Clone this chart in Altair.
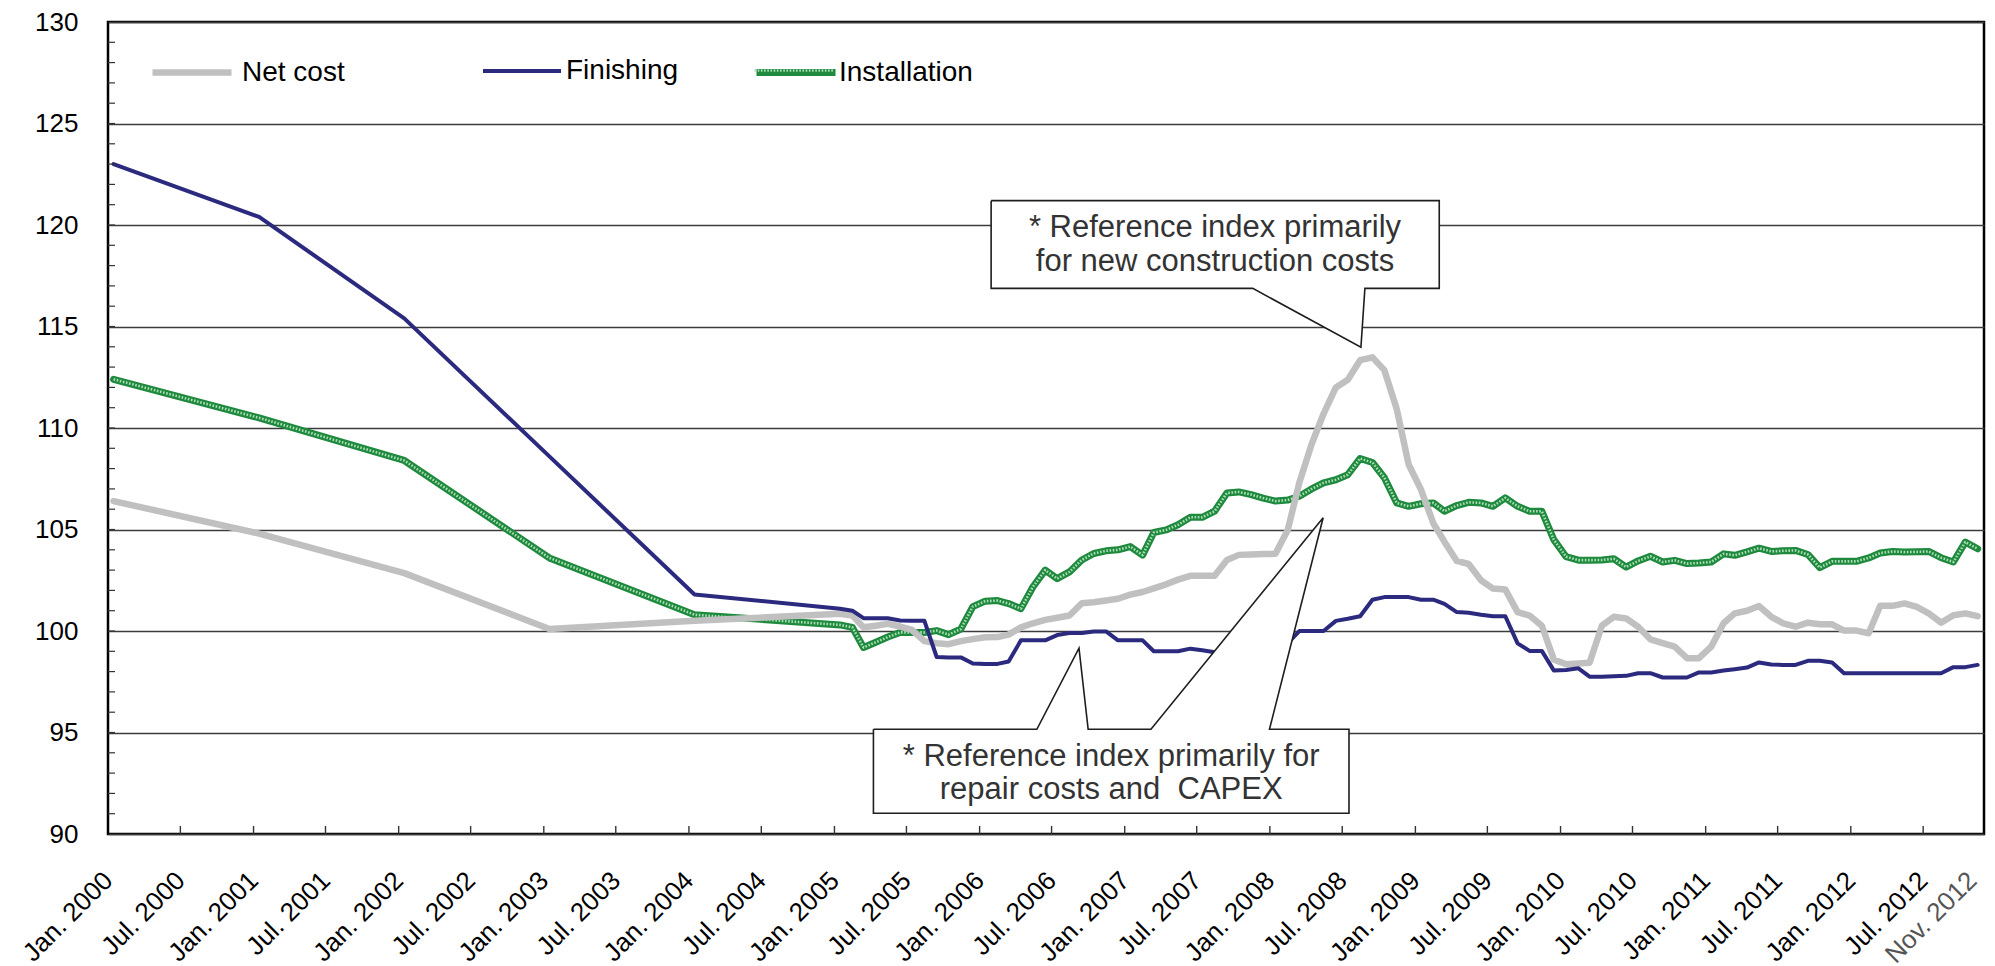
import altair as alt
import pandas as pd

# ---------------------------------------------------------------------------
# Observation dates: yearly values up to 2004, monthly values from 2005 on
# ---------------------------------------------------------------------------
YEARLY_DATES = ["2000-01-15", "2001-01-15", "2002-01-15", "2003-01-15", "2004-01-15"]


def monthly_dates(year, month, count):
    out = []
    for _ in range(count):
        out.append(f"{year:04d}-{month:02d}-15")
        month += 1
        if month > 12:
            month, year = 1, year + 1
    return out


DATES = YEARLY_DATES + monthly_dates(2005, 1, 95)

# ---------------------------------------------------------------------------
# Index values
# ---------------------------------------------------------------------------
NET_COST = [106.4, 104.8, 102.85, 100.1, 100.5] + [
    100.85, 100.76, 100.18, 100.26, 100.35, 100.22, 100.05, 99.5, 99.4, 99.35,
    99.5, 99.6, 99.69, 99.7, 99.82, 100.18, 100.38, 100.55, 100.65, 100.76,
    101.37, 101.42, 101.5, 101.59, 101.79, 101.92, 102.1, 102.3, 102.53, 102.72,
    102.72, 102.72, 103.5, 103.75, 103.77, 103.79, 103.8, 104.98, 107.3, 109.2,
    110.7, 112.0, 112.38, 113.34, 113.48, 112.85, 110.94, 108.2, 106.97, 105.31,
    104.4, 103.45, 103.3, 102.5, 102.09, 102.05, 100.93, 100.76, 100.26, 98.6,
    98.36, 98.4, 98.44, 100.26, 100.7, 100.62, 100.21, 99.59, 99.4, 99.23,
    98.66, 98.66, 99.23, 100.38, 100.87, 101.0, 101.23, 100.7, 100.38, 100.21,
    100.41, 100.33, 100.33, 100.02, 100.02, 99.89, 101.24, 101.24, 101.36, 101.19,
    100.87, 100.41, 100.78, 100.87, 100.73,
]

FINISHING = [123.0, 120.4, 115.4, 108.6, 101.8] + [
    101.1, 101.0, 100.63, 100.63, 100.63, 100.52, 100.51, 100.51, 98.72, 98.7,
    98.7, 98.4, 98.38, 98.38, 98.5, 99.54, 99.54, 99.54, 99.8, 99.9,
    99.9, 99.98, 99.98, 99.54, 99.54, 99.54, 99.0, 99.0, 99.0, 99.13,
    99.05, 98.95, 98.9, 98.9, 98.9, 98.95, 99.1, 99.4, 100.0, 100.0,
    100.0, 100.5, 100.6, 100.73, 101.54, 101.67, 101.67, 101.67, 101.54, 101.54,
    101.34, 100.93, 100.9, 100.8, 100.73, 100.73, 99.39, 99.02, 99.02, 98.06,
    98.08, 98.16, 97.75, 97.75, 97.77, 97.79, 97.92, 97.92, 97.71, 97.71,
    97.71, 97.96, 97.96, 98.05, 98.12, 98.2, 98.45, 98.35, 98.33, 98.33,
    98.53, 98.53, 98.45, 97.92, 97.92, 97.92, 97.92, 97.92, 97.92, 97.92,
    97.92, 97.92, 98.22, 98.22, 98.33,
]

INSTALLATION = [112.4, 110.5, 108.4, 103.6, 100.8] + [
    100.3, 100.18, 99.19, 99.45, 99.7, 99.93, 99.93, 99.93, 100.02, 99.82,
    100.1, 101.2, 101.47, 101.5, 101.35, 101.1, 102.17, 103.0, 102.58, 102.91,
    103.5, 103.82, 103.95, 104.0, 104.16, 103.74, 104.85, 104.98, 105.23, 105.6,
    105.6, 105.9, 106.8, 106.85, 106.72, 106.55, 106.4, 106.45, 106.64, 107.0,
    107.3, 107.45, 107.7, 108.5, 108.3, 107.55, 106.31, 106.14, 106.27, 106.31,
    105.9, 106.18, 106.34, 106.31, 106.14, 106.56, 106.14, 105.9, 105.9, 104.5,
    103.66, 103.49, 103.49, 103.5, 103.56, 103.15, 103.45, 103.68, 103.4, 103.48,
    103.32, 103.35, 103.4, 103.8, 103.73, 103.9, 104.08, 103.92, 103.95, 103.97,
    103.77, 103.12, 103.43, 103.43, 103.43, 103.6, 103.84, 103.92, 103.89, 103.9,
    103.92, 103.61, 103.4, 104.38, 104.05,
]

SERIES_NAMES = ["Net cost", "Finishing", "Installation"]

# Axis tick positions (half-yearly) and the closing month label
TICK_MONTHS = [(y, m) for y in range(2000, 2013) for m in (1, 7)]
LAST_MONTH = (2012, 11)
Y_LABELS = [90, 95, 100, 105, 110, 115, 120, 125, 130]
Y_MINOR = list(range(91, 130))

# Call-out texts
NOTE_NEW = ["* Reference index primarily", "for new construction costs"]
NOTE_REPAIR = ["* Reference index primarily for", "repair costs and\u00a0 CAPEX"]

# ---------------------------------------------------------------------------
# Layout / style
# ---------------------------------------------------------------------------
W, H = 1876, 812
FONT = "Liberation Sans"
GRAY = "#c0c0c0"
NAVY = "#2b2a7e"
GREEN = "#1f8a3e"
GREEN_DOTS = "#a9ddb4"

X_SCALE = alt.Scale(
    type="utc",
    domain=[
        alt.DateTime(year=2000, month=1, date=1, utc=True),
        alt.DateTime(year=2012, month=12, date=1, utc=True),
    ],
)
Y_SCALE = alt.Scale(domain=[90, 130], nice=False, zero=False)

X_AXIS = alt.Axis(
    values=[alt.DateTime(year=y, month=m, date=1, utc=True) for y, m in TICK_MONTHS + [LAST_MONTH]],
    labelExpr="utcFormat(datum.value, '%b. %Y')",
    labelAngle=-45,
    labelAlign="right",
    labelBaseline="middle",
    labelPadding=42,
    labelFontSize=26,
    labelFont=FONT,
    labelColor={"condition": {"test": "utcmonth(datum.value) == 10", "value": "#555555"}, "value": "#000000"},
    labelFlush=False,
    labelOverlap=False,
    labelBound=False,
    ticks=False,
    tickSize=0,
    grid=False,
    domain=False,
    title=None,
)

Y_AXIS = alt.Axis(
    values=Y_LABELS,
    grid=True,
    gridColor="#3c3c3c",
    gridWidth=1.3,
    ticks=False,
    tickSize=0,
    domain=False,
    labelFontSize=26,
    labelFont=FONT,
    labelColor="#000000",
    labelPadding=30,
    title=None,
)


def X(field):
    return alt.X(field, scale=X_SCALE, axis=X_AXIS)


def Y(field):
    return alt.Y(field, scale=Y_SCALE, axis=Y_AXIS)


def series_frame(name, values):
    return pd.DataFrame({"date": DATES, "value": values, "series": name})


df_net = series_frame(SERIES_NAMES[0], NET_COST)
df_fin = series_frame(SERIES_NAMES[1], FINISHING)
df_ins = series_frame(SERIES_NAMES[2], INSTALLATION)


def legend(x, length, width, offset, dash=None, blank_label=False):
    opts = dict(
        orient="none",
        legendX=x,
        legendY=47 - length / 2,
        title=None,
        symbolType="stroke",
        symbolSize=length * length,
        symbolStrokeWidth=width,
        labelFontSize=28,
        labelFont=FONT,
        labelColor="#000000",
        labelOffset=offset,
        padding=0,
    )
    if dash is not None:
        opts["symbolDash"] = dash
    if blank_label:
        opts["labelExpr"] = "''"
    return alt.Legend(**opts)


def line_layer(df, color, width, leg, dash=None):
    mark_opts = dict(strokeWidth=width, strokeJoin="round", strokeCap="round")
    if dash is not None:
        mark_opts["strokeDash"] = dash
        mark_opts["strokeCap"] = "butt"
    return alt.Chart(df).mark_line(**mark_opts).encode(
        x=X("date:T"),
        y=Y("value:Q"),
        color=alt.Color(
            "series:N",
            scale=alt.Scale(domain=[df["series"].iloc[0]], range=[color]),
            legend=leg,
        ),
    )


ins_base = line_layer(df_ins, GREEN, 7, legend(645, 79, 7, 0))
ins_dots = line_layer(df_ins, GREEN_DOTS, 2.6,
                      legend(645, 79, 2.6, 0, dash=[1.6, 1.6], blank_label=True), dash=[1.6, 1.6])
net_line = line_layer(df_net, GRAY, 6.5, legend(41, 79, 6.5, 7))
fin_line = line_layer(df_fin, NAVY, 4, legend(373, 78, 4, 3))

# Inward tick marks on the bottom and left frame
x_ticks = alt.Chart(
    pd.DataFrame({"date": [f"{y:04d}-{m:02d}-01" for y, m in TICK_MONTHS[1:]]})
).mark_rule(color="#333333", strokeWidth=1.4).encode(
    x=X("date:T"),
    y=alt.value(H),
    y2=alt.value(H - 8),
)
y_ticks = alt.Chart(pd.DataFrame({"v": Y_MINOR})).mark_rule(color="#333333", strokeWidth=1.2).encode(
    y=Y("v:Q"),
    x=alt.value(0),
    x2=alt.value(7),
)

# ---------------------------------------------------------------------------
# Call-out boxes (outlined in data coordinates)
# ---------------------------------------------------------------------------
B1 = dict(left="2006-01-30", right="2009-03-02", top=121.2, bottom=116.88)
B1_PTR = dict(base_l="2007-11-19", tip="2008-08-17", tip_v=113.98, base_r="2008-08-27")
B2 = dict(left="2005-04-09", right="2008-07-18", top=95.16, bottom=91.02)
B2_PTR1 = dict(base_l="2006-05-25", tip="2006-09-08", tip_v=99.15, base_r="2006-10-01")
B2_PTR2 = dict(base_l="2007-03-08", tip="2008-05-14", tip_v=105.58, base_r="2007-12-31")

outline_pts = {
    "b1": [
        (B1["left"], B1["top"]), (B1["right"], B1["top"]), (B1["right"], B1["bottom"]),
        (B1_PTR["base_r"], B1["bottom"]), (B1_PTR["tip"], B1_PTR["tip_v"]),
        (B1_PTR["base_l"], B1["bottom"]), (B1["left"], B1["bottom"]), (B1["left"], B1["top"]),
    ],
    "b2": [
        (B2["left"], B2["top"]),
        (B2_PTR1["base_l"], B2["top"]), (B2_PTR1["tip"], B2_PTR1["tip_v"]), (B2_PTR1["base_r"], B2["top"]),
        (B2_PTR2["base_l"], B2["top"]), (B2_PTR2["tip"], B2_PTR2["tip_v"]), (B2_PTR2["base_r"], B2["top"]),
        (B2["right"], B2["top"]), (B2["right"], B2["bottom"]), (B2["left"], B2["bottom"]),
        (B2["left"], B2["top"]),
    ],
}
outline_df = pd.DataFrame(
    [{"box": b, "i": i, "date": d, "value": v} for b, pts in outline_pts.items() for i, (d, v) in enumerate(pts)]
)

notes_df = pd.DataFrame([
    {"date": "2007-08-16", "value": 119.4, "lines": NOTE_NEW},
    {"date": "2006-11-28", "value": 93.36, "lines": NOTE_REPAIR},
])

callouts = alt.Chart(outline_df).mark_line(
    color="#1e1e1e", fill="white", strokeWidth=1.6, strokeJoin="miter"
).encode(
    x=X("date:T"),
    y=Y("value:Q"),
    order="i:Q",
    detail="box:N",
)
notes = alt.Chart(notes_df).mark_text(
    font=FONT, fontSize=31, color="#333333", align="center", baseline="alphabetic", lineHeight=33.4
).encode(
    x=X("date:T"),
    y=Y("value:Q"),
    text="lines",
)

chart = (
    alt.layer(ins_base, ins_dots, net_line, fin_line, x_ticks, y_ticks, callouts, notes)
    .resolve_scale(color="independent")
    .properties(
        width=W,
        height=H,
        autosize="none",
        padding={"left": 108, "top": 22, "right": 11, "bottom": 132},
        background="white",
    )
    .configure(font=FONT)
    .configure_view(stroke="#000000", strokeWidth=2.5)
)

chart.save("out.html", embed_options={"renderer": "svg", "actions": False})
